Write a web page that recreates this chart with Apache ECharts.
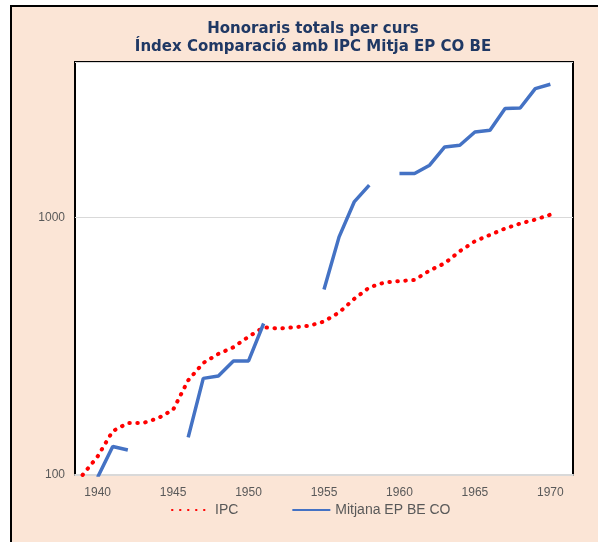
<!DOCTYPE html>
<html>
<head>
<meta charset="utf-8">
<script src="https://cdn.jsdelivr.net/npm/echarts@6/dist/echarts.min.js"></script>
<style>
  html, body { margin: 0; padding: 0; background: #fff; }
  #chart { width: 598px; height: 542px; }
</style>
</head>
<body>
<div id="chart"></div>
<script>
// years on the category axis
const years = []
for (let y = 1939; y <= 1971; y++) years.push(String(y))

// IPC index
const ipc = [100, 118, 148, 159, 159, 166, 179, 233, 272, 295, 313, 344, 374, 370, 374, 379, 394, 427, 482,
  534, 558, 565, 571, 621, 663, 738, 807, 854, 904, 945, 979, 1023, null]

// Mitjana EP BE CO (gaps where no data)
const mitjana = [null, 98, 129, 125, null, null, null, 140, 237, 242, 277, 277, 387, null, null, null, 524, 839, 1146,
  1331, null, 1477, 1477, 1591, 1873, 1901, 2141, 2174, 2638, 2653, 3154, 3278, null]

const yLabels = [100, 1000]

const chart = echarts.init(document.getElementById('chart'))

const labelColor = '#595959'

chart.setOption({
  animation: false,
  graphic: [
    {
      type: 'rect',
      z: -10,
      shape: { x: 11, y: 6, width: 700, height: 700 },
      style: { fill: '#FBE5D6', stroke: '#000', lineWidth: 2 },
    },
  ],
  title: {
    text: 'Honoraris totals per curs\nÍndex Comparació amb IPC Mitja EP CO BE',
    left: 308,
    top: 15,
    textAlign: 'center',
    textStyle: {
      fontFamily: 'DejaVu Sans',
      fontSize: 15,
      fontWeight: 'bold',
      color: '#1F3864',
      lineHeight: 18,
    },
  },
  legend: {
    bottom: 20,
    left: 166,
    itemWidth: 38,
    itemHeight: 10,
    itemGap: 53,
    itemStyle: { opacity: 0 },
    textStyle: { color: labelColor, fontSize: 14, fontFamily: 'Liberation Sans' },
    data: ['IPC', 'Mitjana EP BE CO'],
  },
  grid: {
    left: 75,
    right: 25,
    top: 62,
    bottom: 67,
    show: true,
    backgroundColor: '#fff',
    borderColor: '#000',
    borderWidth: 2,
  },
  xAxis: {
    type: 'category',
    data: years,
    boundaryGap: true,
    axisLine: { lineStyle: { color: '#D9D9D9', width: 2 } },
    axisTick: { show: false },
    axisLabel: {
      color: labelColor,
      fontSize: 12,
      fontFamily: 'Liberation Sans',
      margin: 12,
      interval: (i, v) => Number(v) % 5 === 0,
    },
  },
  yAxis: {
    type: 'log',
    logBase: 10,
    min: 100,
    max: 4000,
    axisLine: { show: false },
    axisTick: { show: false },
    splitLine: { lineStyle: { color: '#D9D9D9', width: 1 } },
    axisLabel: {
      color: labelColor,
      fontSize: 12,
      fontFamily: 'Liberation Sans',
      margin: 10,
      formatter: (v) => (yLabels.indexOf(Math.round(v)) >= 0 ? String(Math.round(v)) : ''),
    },
  },
  series: [
    {
      name: 'IPC',
      type: 'line',
      data: ipc,
      showSymbol: false,
      symbol: 'none',
      color: '#FF0000',
      lineStyle: { color: '#FF0000', width: 4, type: [0.5, 7.5], cap: 'round' },
    },
    {
      name: 'Mitjana EP BE CO',
      type: 'line',
      data: mitjana,
      showSymbol: false,
      symbol: 'none',
      color: '#4472C4',
      lineStyle: { color: '#4472C4', width: 3.5 },
    },
  ],
})
</script>
</body>
</html>
